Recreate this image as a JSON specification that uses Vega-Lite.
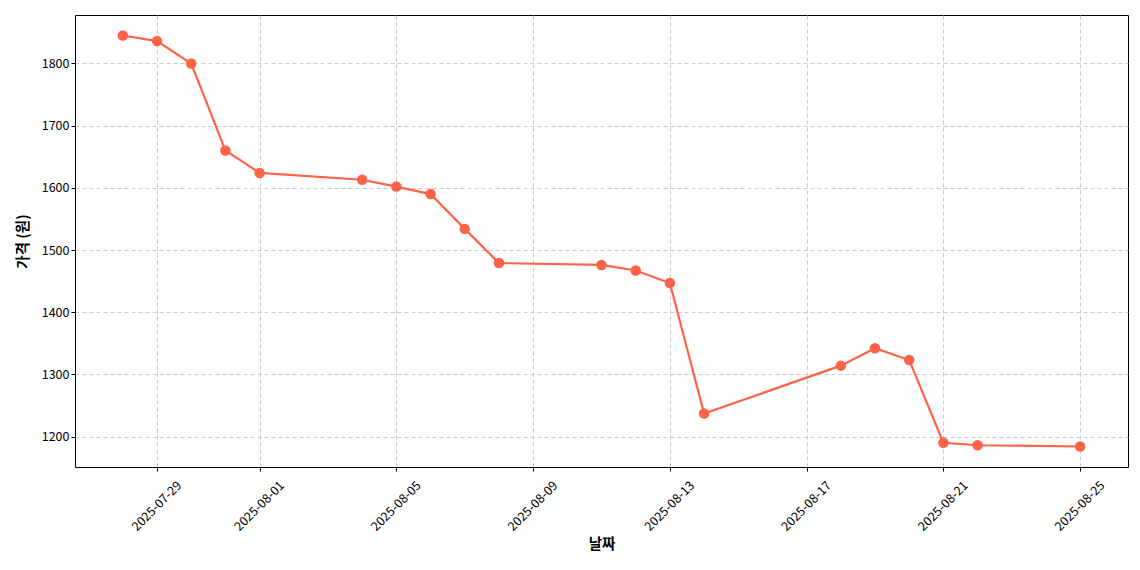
{
  "$schema": "https://vega.github.io/schema/vega-lite/v6.json",
  "width": 1053,
  "height": 452,
  "autosize": {"type": "none"},
  "padding": {"left": 75, "top": 15, "right": 12, "bottom": 103},
  "background": "white",
  "data": {
    "values": [
      {"date": "2025-07-28T00:00:00", "price": 1845},
      {"date": "2025-07-29T00:00:00", "price": 1836},
      {"date": "2025-07-30T00:00:00", "price": 1800},
      {"date": "2025-07-31T00:00:00", "price": 1660},
      {"date": "2025-08-01T00:00:00", "price": 1624},
      {"date": "2025-08-04T00:00:00", "price": 1613},
      {"date": "2025-08-05T00:00:00", "price": 1602},
      {"date": "2025-08-06T00:00:00", "price": 1590},
      {"date": "2025-08-07T00:00:00", "price": 1534},
      {"date": "2025-08-08T00:00:00", "price": 1479},
      {"date": "2025-08-11T00:00:00", "price": 1476},
      {"date": "2025-08-12T00:00:00", "price": 1467},
      {"date": "2025-08-13T00:00:00", "price": 1447},
      {"date": "2025-08-14T00:00:00", "price": 1237},
      {"date": "2025-08-18T00:00:00", "price": 1314},
      {"date": "2025-08-19T00:00:00", "price": 1342},
      {"date": "2025-08-20T00:00:00", "price": 1323},
      {"date": "2025-08-21T00:00:00", "price": 1190},
      {"date": "2025-08-22T00:00:00", "price": 1186},
      {"date": "2025-08-25T00:00:00", "price": 1184}
    ]
  },
  "encoding": {
    "x": {
      "field": "date",
      "type": "temporal",
      "scale": {
        "domain": [
          {"year": 2025, "month": 7, "date": 26, "hours": 14, "minutes": 24},
          {"year": 2025, "month": 8, "date": 26, "hours": 9, "minutes": 36}
        ]
      },
      "axis": {
        "title": "날짜",
        "values": [
          {"year": 2025, "month": 7, "date": 29},
          {"year": 2025, "month": 8, "date": 1},
          {"year": 2025, "month": 8, "date": 5},
          {"year": 2025, "month": 8, "date": 9},
          {"year": 2025, "month": 8, "date": 13},
          {"year": 2025, "month": 8, "date": 17},
          {"year": 2025, "month": 8, "date": 21},
          {"year": 2025, "month": 8, "date": 25}
        ],
        "format": "%Y-%m-%d",
        "labelAngle": -45,
        "labelAlign": "right",
        "labelBaseline": "middle",
        "labelOffset": 22,
        "labelPadding": 12,
        "titlePadding": 5
      }
    },
    "y": {
      "field": "price",
      "type": "quantitative",
      "scale": {"domain": [1151, 1878], "nice": false, "zero": false},
      "axis": {
        "title": "가격 (원)",
        "format": "d",
        "values": [1200, 1300, 1400, 1500, 1600, 1700, 1800],
        "titlePadding": 11
      }
    }
  },
  "layer": [
    {"mark": {"type": "line", "color": "#FF6347", "strokeWidth": 2.2}},
    {"mark": {"type": "point", "filled": true, "opacity": 1, "color": "#FF6347", "size": 110}}
  ],
  "config": {
    "font": "Noto Sans CJK KR",
    "view": {"stroke": "black", "strokeWidth": 1},
    "axis": {
      "domain": false,
      "grid": true,
      "gridColor": "#bdbdbd",
      "gridDash": [4, 3],
      "gridWidth": 0.8,
      "tickColor": "black",
      "tickSize": 4,
      "labelColor": "black",
      "labelFontSize": 12.5,
      "labelFont": "Noto Sans CJK KR",
      "titleFont": "Noto Sans CJK KR",
      "titleFontSize": 14.5,
      "titleFontWeight": "bold",
      "titleColor": "black"
    }
  }
}
